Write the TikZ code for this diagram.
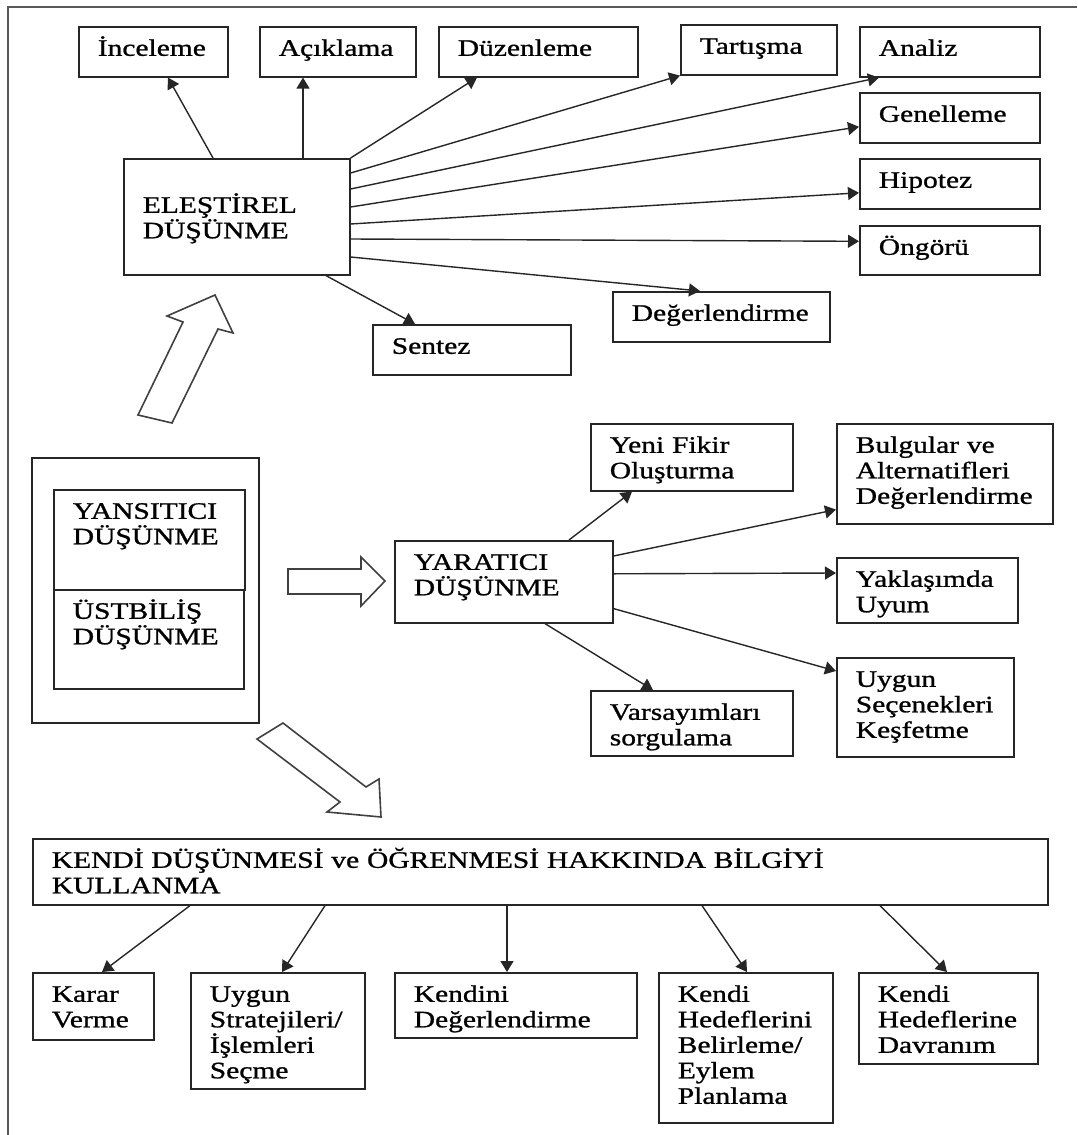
\documentclass[tikz,border=0pt]{standalone}
\usepackage{fontspec}
\setmainfont{Liberation Serif}[FakeStretch=1.25,FakeBold=1]
\usetikzlibrary{arrows.meta}
\newcommand{\boxfont}{\fontsize{11.8pt}{12.75pt}\selectfont}
\tikzset{
  box/.style 2 args={/utils/exec={\pgfmathsetlengthmacro\boxw{(#1-38)*0.5pt}\pgfmathsetlengthmacro\boxd{(#2-29)*0.5pt}},
    draw=black!85, line width=0.8pt, anchor=north west, inner xsep=9.5pt, inner ysep=0pt,
    text width=\boxw, text height=14.5pt, text depth=\boxd, align=left, font=\boxfont},
  arr/.style={-{Triangle[length=5.5pt,width=6.5pt]}, draw=black!85, line width=0.7pt},
  hollow/.style={draw=black!75, line width=0.8pt, line join=miter},
  frame/.style={draw=black!65, line width=1.2pt}
}
\begin{document}
\begin{tikzpicture}[x=0.5pt,y=-0.5pt]
      \useasboundingbox (0,0) rectangle (1077,1135);
      \draw[frame] (8,1135) -- (8,7) -- (1077,7);
      % elestirel dusunme
      \node[box={226}{116}, text height=27pt, text depth=31pt] (eld) at (123,158) {ELEŞTİREL\\DÜŞÜNME};
      \node[box={149}{50}] (incele) at (78,26) {İnceleme};
      \node[box={156}{50}] (acikla) at (259,26) {Açıklama};
      \node[box={199}{50}] (duzen) at (438,26) {Düzenleme};
      \node[box={156}{50}] (tarti) at (680,24) {Tartışma};
      \node[box={180}{50}] (analiz) at (859,26) {Analiz};
      \node[box={180}{50}] (genel) at (859,92) {Genelleme};
      \node[box={180}{50}] (hipo) at (859,158) {Hipotez};
      \node[box={180}{49}] (ongoru) at (859,225) {Öngörü};
      \node[box={217}{50}] (deger) at (612,291) {Değerlendirme};
      \node[box={198}{50}] (sentez) at (372,324) {Sentez};
      \draw[arr] ([xshift=45pt]eld.north west) -- ([xshift=45pt]incele.south west);
      \draw[arr] ([xshift=90pt]eld.north west) -- ([xshift=22pt]acikla.south west);
      \draw[arr] (eld.north east) -- ([xshift=19.5pt]duzen.south west);
      \draw[arr] ([yshift=-7.5pt]eld.north east) -- (tarti.south west);
      \draw[arr] ([yshift=-15.5pt]eld.north east) -- ([xshift=10pt]analiz.south west);
      \draw[arr] ([yshift=-24.5pt]eld.north east) -- ([yshift=-4.5pt]genel.west);
      \draw[arr] ([yshift=-33pt]eld.north east) -- ([yshift=-4.5pt]hipo.west);
      \draw[arr] ([yshift=-40.5pt]eld.north east) -- ([yshift=4.5pt]ongoru.west);
      \draw[arr] ([yshift=-49.5pt]eld.north east) -- ([xshift=44pt]deger.north west);
      \draw[arr] ([xshift=101.5pt]eld.south west) -- ([xshift=21.5pt]sentez.north west);
      % yansitici / ustbilis
      \node[draw=black!85, line width=0.8pt, anchor=north west, inner sep=0pt, minimum width=113.5pt, minimum height=132.5pt] (dis) at (31,457) {};
      \node[box={191}{100}] (yans) at (53,489) {YANSITICI\\DÜŞÜNME};
      \node[box={190}{99}] (ustb) at (53,589) {ÜSTBİLİŞ\\DÜŞÜNME};
      \draw[hollow] (138,415) -- (183,322) -- (167,316) -- (215,295) -- (233,333) -- (218,329) -- (172,423) -- cycle;
      \draw[hollow] (288,569) -- (361,569) -- (361,557) -- (385,581) -- (361,606) -- (361,594) -- (288,594) -- cycle;
      \draw[hollow] (257,739) -- (283,723) -- (366,787) -- (379,779) -- (381,817) -- (327,812) -- (340,802) -- cycle;
      % yaratici dusunme
      \node[box={218}{82}] (yar) at (394,540) {YARATICI\\DÜŞÜNME};
      \node[box={202}{67}] (yeni) at (590,423) {Yeni Fikir\\Oluşturma};
      \node[box={216}{100}] (bulg) at (836,423) {Bulgular ve\\Alternatifleri\\Değerlendirme};
      \node[box={181}{65}] (yakl) at (836,557) {Yaklaşımda\\Uyum};
      \node[box={177}{99}] (uygsec) at (836,657) {Uygun\\Seçenekleri\\Keşfetme};
      \node[box={202}{65}] (vars) at (590,690) {Varsayımları\\sorgulama};
      \draw[arr] ([xshift=87.5pt]yar.north west) -- ([xshift=21pt]yeni.south west);
      \draw[arr] ([yshift=-8pt]yar.north east) -- ([yshift=7.5pt]bulg.south west);
      \draw[arr] ([yshift=4pt]yar.east) -- ([yshift=-8pt]yakl.north west);
      \draw[arr] ([yshift=7.5pt]yar.south east) -- ([yshift=-7pt]uygsec.north west);
      \draw[arr] ([xshift=75.5pt]yar.south west) -- ([xshift=31.5pt]vars.north west);
      % bilgiyi kullanma
      \node[box={1015}{66}] (kendi) at (32,838) {KENDİ DÜŞÜNMESİ ve ÖĞRENMESİ HAKKINDA BİLGİYİ\\KULLANMA};
      \node[box={121}{67}] (karar) at (32,972) {Karar\\Verme};
      \node[box={174}{116}] (strat) at (190,972) {Uygun\\Stratejileri/\\İşlemleri\\Seçme};
      \node[box={242}{65}] (kendini) at (394,972) {Kendini\\Değerlendirme};
      \node[box={174}{150}] (hedef) at (658,972) {Kendi\\Hedeflerini\\Belirleme/\\Eylem\\Planlama};
      \node[box={179}{91}] (davran) at (858,972) {Kendi\\Hedeflerine\\Davranım};
      \draw[arr] ([xshift=79pt]kendi.south west) -- ([xshift=35pt]karar.north west);
      \draw[arr] ([xshift=146.5pt]kendi.south west) -- ([xshift=46pt]strat.north west);
      \draw[arr] ([xshift=237.5pt]kendi.south west) -- ([xshift=56.5pt]kendini.north west);
      \draw[arr] ([xshift=335pt]kendi.south west) -- ([xshift=44.5pt]hedef.north west);
      \draw[arr] ([xshift=424pt]kendi.south west) -- ([xshift=44.5pt]davran.north west);
\end{tikzpicture}
\end{document}
